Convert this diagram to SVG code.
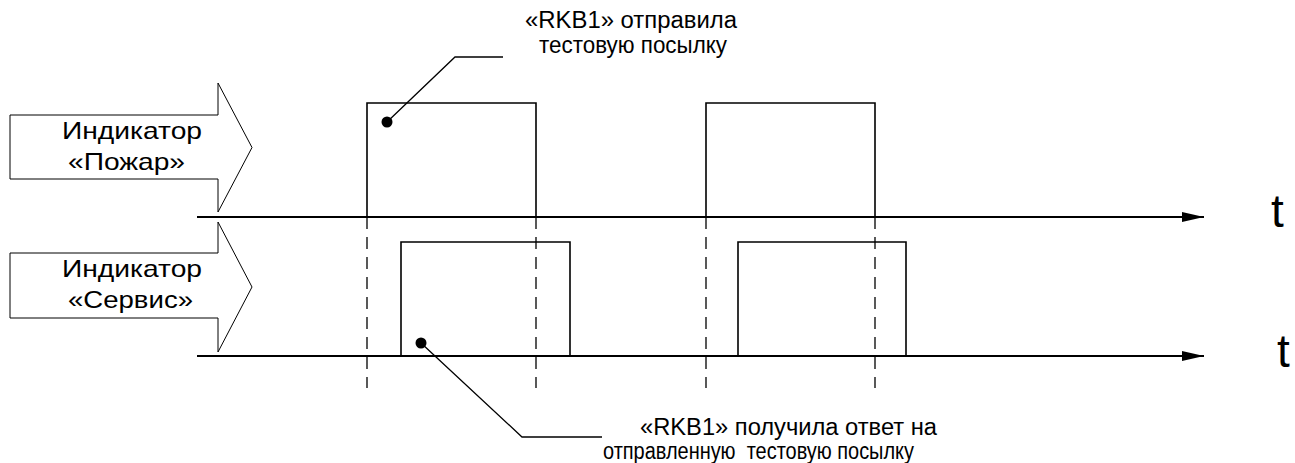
<svg xmlns="http://www.w3.org/2000/svg" width="1295" height="463" viewBox="0 0 1295 463">
<style>
text{font-family:"Liberation Sans",Arial,sans-serif;fill:#000}
.lbl{font-size:24px}
.note{font-size:23px}
.big{font-size:46px}
.arrow{fill:#fff;stroke:#000;stroke-width:1}
.axis{stroke:#000;stroke-width:2;fill:none}
.pulse{stroke:#000;stroke-width:1.6;fill:none}
.dash{stroke:#000;stroke-width:1.3;stroke-dasharray:12 8;fill:none}
.lead{stroke:#000;stroke-width:1.3;fill:none}
</style>
<defs>
<marker id="ah" markerWidth="22" markerHeight="10" refX="22" refY="5" orient="auto" markerUnits="userSpaceOnUse">
<path d="M0,0 L22,5 L0,10 Z" fill="#000"/>
</marker>
</defs>
<rect width="1295" height="463" fill="#fff"/>
<g id="indicator-fire">
<polygon class="arrow" points="10,115 218,115 218,83 252,147.5 218,212 218,179 10,179"/>
<text class="lbl" x="62" y="139" textLength="140" lengthAdjust="spacingAndGlyphs">Индикатор</text>
<text class="lbl" x="68" y="170" textLength="117" lengthAdjust="spacingAndGlyphs">«Пожар»</text>
</g>
<g id="indicator-service">
<polygon class="arrow" points="10,253 218,253 218,222 252,287 218,352 218,318 10,318"/>
<text class="lbl" x="62" y="277" textLength="140" lengthAdjust="spacingAndGlyphs">Индикатор</text>
<text class="lbl" x="68" y="308" textLength="125" lengthAdjust="spacingAndGlyphs">«Сервис»</text>
</g>
<g id="connectors">
<line class="axis" x1="197" y1="217" x2="1204" y2="217" marker-end="url(#ah)"/>
<line class="axis" x1="197" y1="356" x2="1204" y2="356" marker-end="url(#ah)"/>
<path class="pulse" d="M367,217 V103 H536 V217"/>
<path class="pulse" d="M706,217 V103 H875 V217"/>
<path class="pulse" d="M401,356 V242 H570 V356"/>
<path class="pulse" d="M738,356 V242 H906 V356"/>
<line class="dash" x1="367" y1="217" x2="367" y2="388"/>
<line class="dash" x1="536" y1="217" x2="536" y2="388"/>
<line class="dash" x1="706" y1="217" x2="706" y2="388"/>
<line class="dash" x1="875" y1="217" x2="875" y2="388"/>
<polyline class="lead" points="387,122 455,57 503,57"/>
<circle cx="387" cy="122" r="5.5" fill="#000"/>
<polyline class="lead" points="421,343 522,437 602,437"/>
<circle cx="421" cy="343" r="5.5" fill="#000"/>
</g>
<g id="t-labels">
<text class="big" x="1271" y="227">t</text>
<text class="big" x="1277" y="367">t</text>
</g>
<g id="note-sent">
<text class="note" x="525" y="28" textLength="212" lengthAdjust="spacingAndGlyphs">«RKB1» отправила</text>
<text class="note" x="539" y="53" textLength="188" lengthAdjust="spacingAndGlyphs">тестовую посылку</text>
</g>
<g id="note-received">
<text class="note" x="640" y="435" textLength="297" lengthAdjust="spacingAndGlyphs">«RKB1» получила ответ на</text>
<text class="note" x="603" y="459" textLength="311" lengthAdjust="spacingAndGlyphs" xml:space="preserve">отправленную  тестовую посылку</text>
</g>
</svg>
